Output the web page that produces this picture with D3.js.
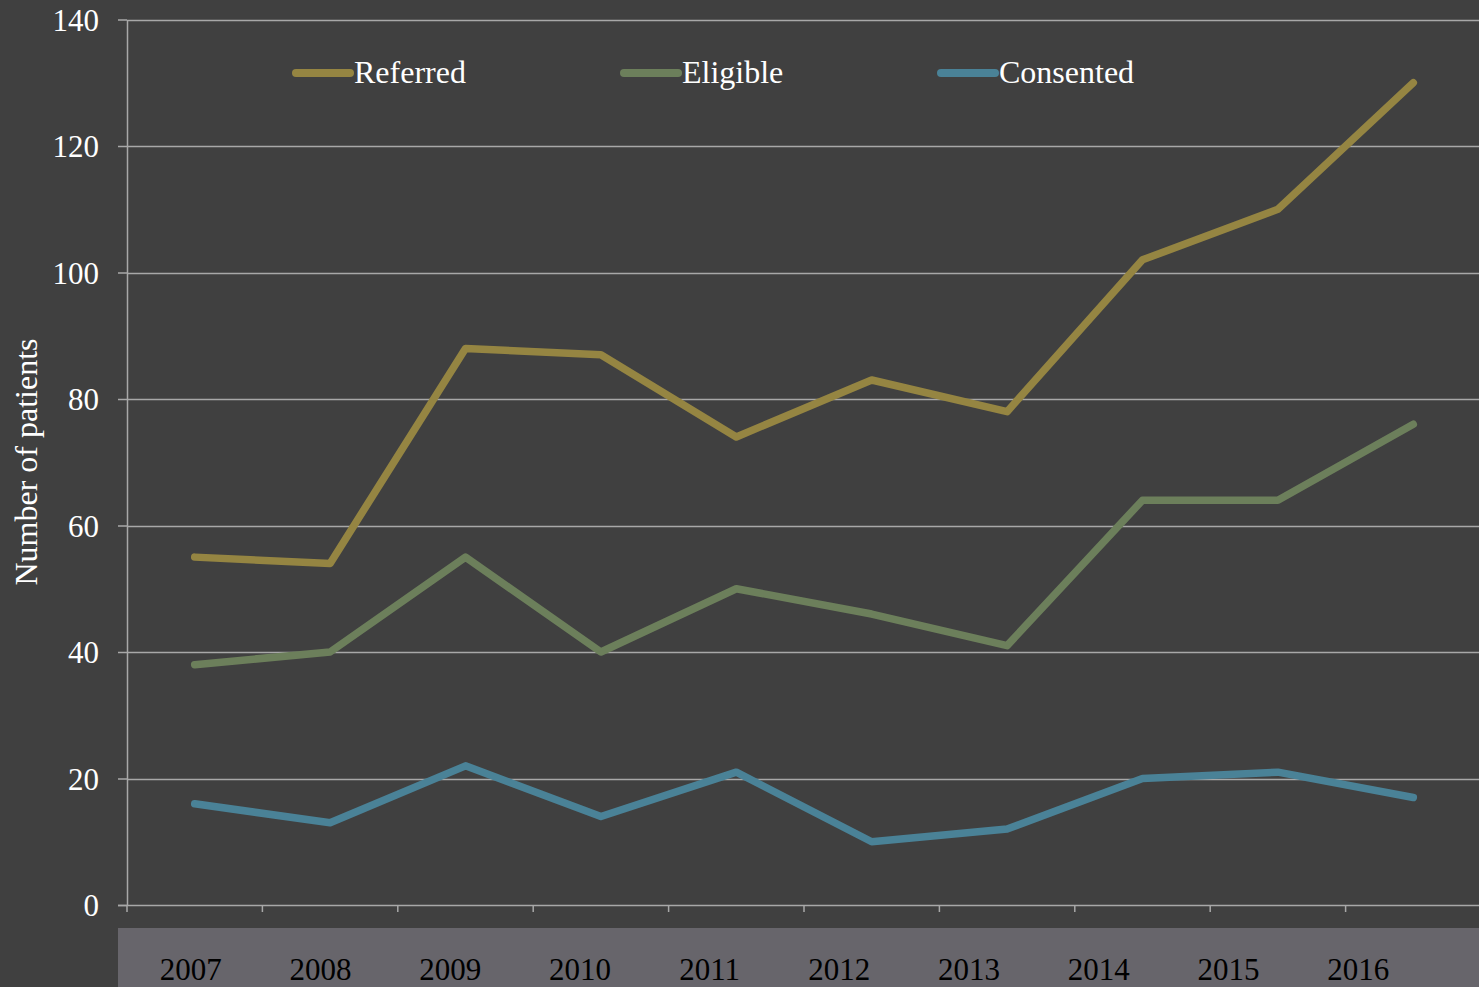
<!DOCTYPE html>
<html>
<head>
<meta charset="utf-8">
<script src="https://cdn.jsdelivr.net/npm/d3@7"></script>
<style>
  html, body { margin: 0; padding: 0; background: #404040; }
  svg { display: block; }
  text { font-family: "Liberation Serif", "Times New Roman", serif; }
</style>
</head>
<body>
<svg id="chart" width="1479" height="987"></svg>
<script>
// Patients per year
const years = ["2007", "2008", "2009", "2010", "2011", "2012", "2013", "2014", "2015", "2016"];
const referred  = [55, 54, 88, 87, 74, 83, 78, 102, 110, 130];
const eligible  = [38, 40, 55, 40, 50, 46, 41, 64, 64, 76];
const consented = [16, 13, 22, 14, 21, 10, 12, 20, 21, 17];
const seriesNames = ["Referred", "Eligible", "Consented"];
const yTicks = [0, 20, 40, 60, 80, 100, 120, 140];

const seriesData = [referred, eligible, consented];
const colors = ["#958542", "#6c7f5b", "#4a8297"];

const W = 1479, H = 987;
const plot = { left: 127, right: 1481, top: 19.5, bottom: 905 };

const svg = d3.select("#chart");
svg.append("rect").attr("width", W).attr("height", H).attr("fill", "#404040");

const x = d3.scaleBand().domain(years).range([plot.left, plot.right]);
const y = d3.scaleLinear().domain([0, 140]).range([plot.bottom, plot.top]);

// horizontal gridlines
svg.append("g")
  .selectAll("line")
  .data(yTicks.filter(d => d > 0))
  .join("line")
  .attr("x1", plot.left).attr("x2", W)
  .attr("y1", d => Math.round(y(d)) + 0.5).attr("y2", d => Math.round(y(d)) + 0.5)
  .attr("stroke", "#a8a8a8").attr("stroke-width", 1.5);

// y axis
const yAxis = svg.append("g")
  .attr("transform", `translate(${plot.left},0)`)
  .call(d3.axisLeft(y).tickValues(yTicks).tickSize(9).tickPadding(19).tickSizeOuter(0));
yAxis.select(".domain").attr("stroke", "#a8a8a8").attr("stroke-width", 1.5);
yAxis.selectAll(".tick line").attr("stroke", "#a8a8a8").attr("stroke-width", 1.5);
yAxis.selectAll(".tick text")
  .attr("fill", "#ffffff")
  .style("font-size", "31px")
  .style("font-family", "'Liberation Serif', serif")
  .attr("dy", "0.34em");

// x axis line with tick marks at band edges
const xAxisG = svg.append("g");
xAxisG.append("line")
  .attr("x1", plot.left - 9).attr("x2", W)
  .attr("y1", plot.bottom + 0.5).attr("y2", plot.bottom + 0.5)
  .attr("stroke", "#a8a8a8").attr("stroke-width", 1.5);
xAxisG.selectAll("line.tk")
  .data(years)
  .join("line")
  .attr("class", "tk")
  .attr("x1", d => x(d)).attr("x2", d => x(d))
  .attr("y1", plot.bottom).attr("y2", plot.bottom + 7)
  .attr("stroke", "#a8a8a8").attr("stroke-width", 1.5);

// category band underneath
svg.append("rect")
  .attr("x", 118).attr("y", 928).attr("width", W - 118).attr("height", H - 928)
  .attr("fill", "#67656b");
const xl = d3.scaleBand().domain(years).range([126, 1423]);
svg.append("g")
  .selectAll("text")
  .data(years)
  .join("text")
  .attr("x", d => xl(d) + xl.bandwidth() / 2)
  .attr("y", 980)
  .attr("text-anchor", "middle")
  .attr("fill", "#000000")
  .style("font-size", "31px")
  .text(d => d);

// y axis title
svg.append("text")
  .attr("transform", "translate(37,462) rotate(-90)")
  .attr("text-anchor", "middle")
  .attr("fill", "#ffffff")
  .style("font-size", "32px")
  .text("Number of patients");

// series lines
const line = d3.line()
  .x((d, i) => x(years[i]) + x.bandwidth() / 2)
  .y(d => y(d));

svg.append("g")
  .selectAll("path")
  .data(seriesData)
  .join("path")
  .attr("d", d => line(d))
  .attr("fill", "none")
  .attr("stroke", (d, i) => colors[i])
  .attr("stroke-width", 7.5)
  .attr("stroke-linecap", "round")
  .attr("stroke-linejoin", "round");

// legend
const legendX = [296, 624, 941];
const lg = svg.append("g")
  .selectAll("g")
  .data(seriesNames)
  .join("g")
  .attr("transform", (d, i) => `translate(${legendX[i]},73)`);
lg.append("line")
  .attr("x1", 0).attr("x2", 54)
  .attr("y1", 0).attr("y2", 0)
  .attr("stroke", (d, i) => colors[i])
  .attr("stroke-width", 8)
  .attr("stroke-linecap", "round");
lg.append("text")
  .attr("x", 58).attr("y", 10)
  .attr("fill", "#ffffff")
  .style("font-size", "32px")
  .text(d => d);
</script>
</body>
</html>
